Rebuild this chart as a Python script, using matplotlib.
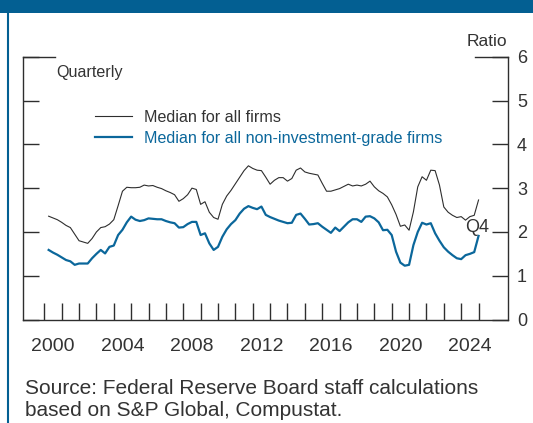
import numpy as np
import pandas as pd
import matplotlib
matplotlib.use("Agg")
import matplotlib.pyplot as plt
from matplotlib.patches import Rectangle
from matplotlib.lines import Line2D

plt.rcParams['font.family'] = ['Liberation Sans', 'DejaVu Sans']

# ---------------- data ----------------
quarters = pd.period_range('2000Q1', '2024Q4', freq='Q')

all_firms = [
    2.36, 2.32, 2.28, 2.22, 2.15, 2.10, 1.95, 1.80, 1.77, 1.74,
    1.85, 2.00, 2.10, 2.12, 2.18, 2.28, 2.60, 2.93, 3.02, 3.01,
    3.01, 3.02, 3.07, 3.05, 3.06, 3.02, 2.99, 2.94, 2.90, 2.85,
    2.70, 2.76, 2.85, 3.00, 2.97, 2.63, 2.69, 2.45, 2.33, 2.29,
    2.63, 2.82, 2.95, 3.10, 3.25, 3.40, 3.51, 3.45, 3.41, 3.40,
    3.25, 3.09, 3.18, 3.24, 3.24, 3.16, 3.22, 3.41, 3.46, 3.37,
    3.34, 3.32, 3.30, 3.11, 2.93, 2.93, 2.96, 2.99, 3.04, 3.09,
    3.05, 3.07, 3.05, 3.09, 3.16, 3.03, 2.94, 2.88, 2.80, 2.62,
    2.40, 2.13, 2.16, 2.04, 2.46, 3.03, 3.26, 3.18, 3.41, 3.40,
    3.07, 2.57, 2.45, 2.38, 2.33, 2.35, 2.27, 2.35, 2.38, 2.73,
]

non_ig_firms = [
    1.59, 1.53, 1.48, 1.42, 1.36, 1.33, 1.25, 1.28, 1.28, 1.28,
    1.40, 1.50, 1.59, 1.51, 1.66, 1.69, 1.93, 2.05, 2.22, 2.35,
    2.28, 2.25, 2.27, 2.31, 2.30, 2.29, 2.29, 2.25, 2.22, 2.20,
    2.10, 2.11, 2.18, 2.23, 2.23, 1.93, 1.97, 1.74, 1.59, 1.66,
    1.89, 2.06, 2.18, 2.27, 2.42, 2.53, 2.59, 2.55, 2.52, 2.58,
    2.39, 2.34, 2.30, 2.26, 2.23, 2.20, 2.21, 2.39, 2.42, 2.30,
    2.17, 2.18, 2.20, 2.12, 2.05, 1.98, 2.10, 2.02, 2.12, 2.22,
    2.29, 2.29, 2.23, 2.35, 2.36, 2.31, 2.22, 2.04, 2.05, 1.93,
    1.55, 1.30, 1.23, 1.25, 1.70, 2.00, 2.21, 2.17, 2.20, 1.97,
    1.80, 1.65, 1.55, 1.47, 1.40, 1.38, 1.47, 1.50, 1.54, 1.91,
]

series_labels = ["Median for all firms", "Median for all non-investment-grade firms"]
year_ticks = list(range(2000, 2026))
year_labels = [str(y) for y in range(2000, 2025, 4)]
y_ticks = [0, 1, 2, 3, 4, 5, 6]

# ---------------- style ----------------
BLUE = '#0b679b'
BANNER = '#035f92'
DARK = '#2e2e2e'
TXT = '#333333'

W, H = 533, 423
fig = plt.figure(figsize=(W / 100, H / 100), dpi=100)

# banner and left rule
fig.patches.append(Rectangle((0, 1 - 13 / H), 1, 13 / H, transform=fig.transFigure,
                             facecolor=BANNER, edgecolor='none'))
fig.add_artist(Line2D([7.5 / W, 7.5 / W], [0, 1 - 13 / H], transform=fig.transFigure,
                      color=BANNER, lw=1.5))

ax = fig.add_axes([23 / W, 1 - 319.6 / H, 485 / W, 262.9 / H])

x = np.array([q.year + q.quarter / 4 for q in quarters])
l1, = ax.plot(x, all_firms, color=DARK, lw=0.8, label=series_labels[0])
l2, = ax.plot(x, non_ig_firms, color=BLUE, lw=1.6, label=series_labels[1])

ax.set_xlim(2000 + (23 - 44.3) / 17.37, 2000 + (508 - 44.3) / 17.37)
ax.set_ylim(0, 6)

for s in ['left', 'right', 'bottom']:
    ax.spines[s].set_color(DARK)
    ax.spines[s].set_linewidth(1.0)
ax.spines['top'].set_visible(False)

ax.set_yticks(y_ticks)
ax.set_yticklabels([str(v) for v in y_ticks])
ax.tick_params(axis='y', which='major', direction='in', length=11.8, width=1.0,
               left=True, right=True, labelleft=False, labelright=True,
               labelsize=13, pad=6.5, colors=DARK, labelcolor=TXT)

ax.set_xticks(year_ticks)
ax.set_xticklabels([])
ax.set_xticks([int(l) + 0.5 for l in year_labels], minor=True)
ax.set_xticklabels(year_labels, minor=True)
ax.tick_params(axis='x', which='major', direction='in', length=12.2, width=1.0,
               colors=DARK)
ax.tick_params(axis='x', which='minor', length=0, pad=13, labelsize=14, labelcolor=TXT)

# longer top ticks at 6
ax.plot([0, 32 / 485], [1, 1], transform=ax.transAxes, color=DARK, lw=1.0, clip_on=False)
ax.plot([1 - 33 / 485, 1], [1, 1], transform=ax.transAxes, color=DARK, lw=1.0, clip_on=False)

ax.text((56 - 23) / 485, (319.6 - 72) / 262.9, "Quarterly", transform=ax.transAxes,
        ha='left', va='center', fontsize=11.6, color=TXT)
fig.text(507 / W, 1 - 41.5 / H, "Ratio", ha='right', va='center', fontsize=12.5, color=TXT)

leg = ax.legend(handles=[l1, l2], loc='upper left', bbox_to_anchor=((95 - 23) / 485, 0.797),
                frameon=False, fontsize=11.6, handlelength=2.3, handletextpad=0.75,
                labelspacing=0.37, borderpad=0, borderaxespad=0)
for t, c in zip(leg.get_texts(), [TXT, BLUE]):
    t.set_color(c)

ax.annotate("Q4", xy=(x[-1], all_firms[-1]), xytext=(-1, -19.5), textcoords='offset points',
            ha='center', va='center', fontsize=13, color=TXT)

fig.text(25 / W, 1 - 393.5 / H, "Source: Federal Reserve Board staff calculations",
         ha='left', va='baseline', fontsize=15, color=TXT)
fig.text(25 / W, 1 - 415.5 / H, "based on S&P Global, Compustat.",
         ha='left', va='baseline', fontsize=15, color=TXT)

fig.savefig("out.png", dpi=100)
